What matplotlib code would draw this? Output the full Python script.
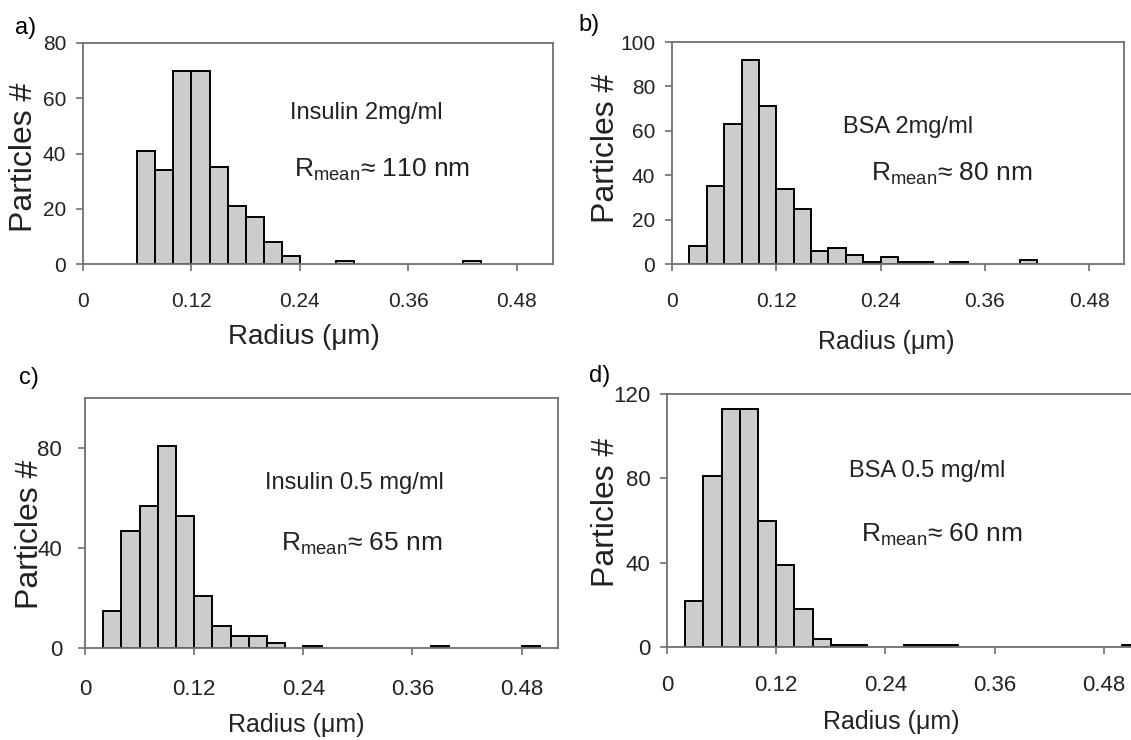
import matplotlib.pyplot as plt
import numpy as np

plt.rcParams['font.family'] = ['Liberation Sans', 'DejaVu Sans']
plt.rcParams['mathtext.fontset'] = 'custom'
plt.rcParams['mathtext.rm'] = 'Liberation Sans'
plt.rcParams['mathtext.it'] = 'Liberation Sans:italic'

W, H = 1131, 740
BIN = 0.02  # histogram bin width (um)

# a) Insulin 2 mg/ml : left bin edges and counts
a_left = [0.06, 0.08, 0.10, 0.12, 0.14, 0.16, 0.18, 0.20, 0.22, 0.28, 0.42]
a_counts = [41, 34, 70, 70, 35, 21, 17, 8, 3, 1, 1]

# b) BSA 2 mg/ml
b_left = [0.02, 0.04, 0.06, 0.08, 0.10, 0.12, 0.14, 0.16, 0.18, 0.20,
          0.22, 0.24, 0.26, 0.28, 0.32, 0.40]
b_counts = [8, 35, 63, 92, 71, 34, 25, 6, 7, 4, 1, 3, 1, 1, 1, 2]

# c) Insulin 0.5 mg/ml
c_left = [0.02, 0.04, 0.06, 0.08, 0.10, 0.12, 0.14, 0.16, 0.18, 0.20,
          0.24, 0.38, 0.48]
c_counts = [15, 47, 57, 81, 53, 21, 9, 5, 5, 2, 1, 1, 1]

# d) BSA 0.5 mg/ml
d_left = [0.02, 0.04, 0.06, 0.08, 0.10, 0.12, 0.14, 0.16, 0.18, 0.20,
          0.26, 0.28, 0.30, 0.50]
d_counts = [22, 81, 113, 113, 60, 39, 18, 4, 1, 1, 1, 1, 1, 1]

x_ticks = [0, 0.12, 0.24, 0.36, 0.48]
x_ticklabels = ["0", "0.12", "0.24", "0.36", "0.48"]

panels = [
    dict(tag="a)", left=a_left, counts=a_counts, box=(83, 43, 553, 264),
         xlim=0.52, ylim=80, yticks=[0, 20, 40, 60, 80],
         sample="Insulin 2mg/ml", rmean="110",
         tag_xy=(26, 28), ylab_xy=(24, 157), xlab_xy=(304, 337),
         s_xy=(366, 113), r_xy=(382, 177),
         tick_fs=15, xpad=15, ypad=7, xlab_fs=20, full_box=True),
    dict(tag="b)", left=b_left, counts=b_counts, box=(672, 42, 1124, 264),
         xlim=0.52, ylim=100, yticks=[0, 20, 40, 60, 80, 100],
         sample="BSA 2mg/ml", rmean="80",
         tag_xy=(589, 25), ylab_xy=(606, 148), xlab_xy=(886, 342),
         s_xy=(908, 127), r_xy=(952, 181),
         tick_fs=15, xpad=15, ypad=7, xlab_fs=18, full_box=True),
    dict(tag="c)", left=c_left, counts=c_counts, box=(85, 398, 558, 648),
         xlim=0.52, ylim=100, yticks=[0, 40, 80],
         sample="Insulin 0.5 mg/ml", rmean="65",
         tag_xy=(29, 378), ylab_xy=(30, 534), xlab_xy=(296, 725),
         s_xy=(354, 483), r_xy=(362, 551),
         tick_fs=16, xpad=17, ypad=11.5, xlab_fs=18, full_box=True),
    dict(tag="d)", left=d_left, counts=d_counts, box=(667, 394, 1131, 647),
         xlim=0.51, ylim=120, yticks=[0, 40, 80, 120],
         sample="BSA 0.5 mg/ml", rmean="60",
         tag_xy=(600, 376), ylab_xy=(606, 512), xlab_xy=(891, 722),
         s_xy=(927, 471), r_xy=(942, 542),
         tick_fs=16, xpad=15, ypad=7, xlab_fs=18, full_box=False),
]

fig = plt.figure(figsize=(W / 100, H / 100), dpi=100)


def fx(x):
    return x / W


def fy(y):
    return 1 - y / H


for p in panels:
    l, t, r, b = p["box"]
    ax = fig.add_axes([fx(l), fy(b), (r - l) / W, (b - t) / H])
    ax.bar(p["left"], p["counts"], width=BIN, align='edge',
           color='#cccccc', edgecolor='black', linewidth=1.4)
    ax.set_xlim(0, p["xlim"])
    ax.set_ylim(0, p["ylim"])
    ax.set_xticks(x_ticks)
    ax.set_xticklabels(x_ticklabels)
    ax.set_yticks(p["yticks"])
    ax.tick_params(axis='x', direction='out', length=5, width=1.2,
                   color='#707070', pad=p["xpad"], labelsize=p["tick_fs"])
    ax.tick_params(axis='y', direction='out', length=5, width=1.2,
                   color='#707070', pad=p["ypad"], labelsize=p["tick_fs"])
    for lab in ax.get_xticklabels() + ax.get_yticklabels():
        lab.set_color('#222222')
    for side, sp in ax.spines.items():
        sp.set_color('#707070')
        sp.set_linewidth(1.3)
    if not p["full_box"]:
        ax.spines['right'].set_visible(False)

    fig.text(fx(p["tag_xy"][0]), fy(p["tag_xy"][1]), p["tag"],
             fontsize=17, ha='center', va='center')
    fig.text(fx(p["ylab_xy"][0]), fy(p["ylab_xy"][1]), "Particles #",
             fontsize=23, rotation=90, ha='center', va='center',
             color='#222222')
    fig.text(fx(p["xlab_xy"][0]), fy(p["xlab_xy"][1]), "Radius (\u03bcm)",
             fontsize=p["xlab_fs"], ha='center', va='center',
             color='#222222')
    fig.text(fx(p["s_xy"][0]), fy(p["s_xy"][1]), p["sample"],
             fontsize=17, ha='center', va='center', color='#222222')
    fig.text(fx(p["r_xy"][0]), fy(p["r_xy"][1]),
             r"R$_{\rm mean}$" + "\u2248 " + p["rmean"] + " nm",
             fontsize=19, ha='center', va='baseline', color='#222222')

fig.savefig("out.png", dpi=100)
